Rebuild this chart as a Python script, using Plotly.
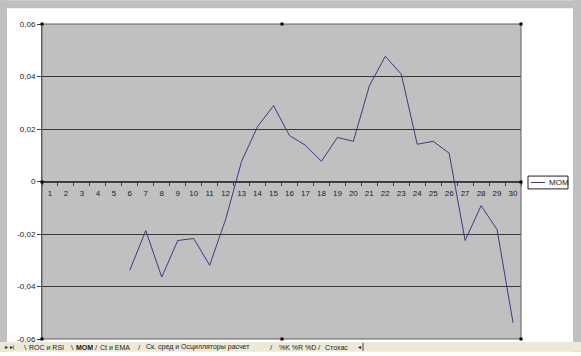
import plotly.graph_objects as go

# ---- data ----
categories = list(range(1, 31))
mom_values = [None, None, None, None, None,
              -0.0338, -0.0187, -0.0364, -0.0225, -0.0217,
              -0.0319, -0.0145, 0.0077, 0.0209, 0.0289,
              0.0175, 0.0138, 0.0077, 0.0168, 0.0153,
              0.0364, 0.0477, 0.0409, 0.0142, 0.0153,
              0.0108, -0.0225, -0.0092, -0.0183, -0.0538]
y_tickvals = [-0.06, -0.04, -0.02, 0, 0.02, 0.04, 0.06]
y_ticktext = ["-0,06", "-0,04", "-0,02", "0", "0,02", "0,04", "0,06"]
series_name = "MOM"
sheet_tabs = [("ROC и RSI", 27, False, "\\", 22), ("MOM", 74, True, "\\", 69),
              ("Ct и EMA", 98, False, "/", 93),
              ("Ск. сред и Осцилляторы расчет", 144, False, "/", 136),
              ("%K %R %D", 277, False, "/", 268), ("Стохас", 323, False, "/", 316)]

W, H = 581, 356
L, R, T, B = 42, 521, 24, 343
PW, PH = R - L, B - T


def px(x):
    return (x - L) / PW


def py(y):
    return (B - y) / PH


FONT = "Liberation Sans, Arial, sans-serif"
LINE_COLOR = "#3a3a8a"

fig = go.Figure()
fig.add_trace(go.Scatter(x=categories, y=mom_values, mode="lines", name=series_name,
                         line=dict(color=LINE_COLOR, width=1), connectgaps=False,
                         showlegend=False, hoverinfo="x+y"))

shapes = []
frame = "#c0c0c0"
shapes.append(dict(type="rect", xref="paper", yref="paper", x0=px(0), x1=px(7), y0=py(H), y1=py(0),
                   fillcolor=frame, line=dict(width=0), layer="below"))
shapes.append(dict(type="rect", xref="paper", yref="paper", x0=px(0), x1=px(W), y0=py(8), y1=py(0),
                   fillcolor=frame, line=dict(width=0), layer="below"))
shapes.append(dict(type="rect", xref="paper", yref="paper", x0=px(573), x1=px(W), y0=py(H), y1=py(0),
                   fillcolor=frame, line=dict(width=0), layer="below"))
# sheet tab bar
shapes.append(dict(type="rect", xref="paper", yref="paper", x0=px(0), x1=px(W), y0=py(H), y1=py(346),
                   fillcolor="#ece9d8", line=dict(width=0)))
shapes.append(dict(type="line", xref="paper", yref="paper", x0=px(363), x1=px(363), y0=py(355), y1=py(347),
                   line=dict(color="#404040", width=1)))
# plot area border
shapes.append(dict(type="rect", xref="paper", yref="paper", x0=0, x1=1, y0=0, y1=1,
                   line=dict(color="#606060", width=1)))
# selection handles
for hx, hy in [(L, T), (282, T), (R, T), (L, 184), (R, 184), (L, B), (282, B), (R, B)]:
    shapes.append(dict(type="rect", xref="paper", yref="paper", x0=px(hx - 1.5), x1=px(hx + 1.5),
                       y0=py(hy + 1.5), y1=py(hy - 1.5), fillcolor="black", line=dict(width=0)))
# legend box
shapes.append(dict(type="rect", xref="paper", yref="paper", x0=px(528), x1=px(568), y0=py(191), y1=py(178),
                   fillcolor="white", line=dict(color="#202020", width=1)))
shapes.append(dict(type="line", xref="paper", yref="paper", x0=px(531), x1=px(545), y0=py(184.5), y1=py(184.5),
                   line=dict(color=LINE_COLOR, width=1)))

annotations = [dict(xref="paper", yref="paper", x=px(547), y=py(184.5), text=series_name, showarrow=False,
                    xanchor="left", yanchor="middle", font=dict(family=FONT, size=8, color="#202020"))]
annotations.append(dict(xref="paper", yref="paper", x=px(3), y=py(351.5), text="▸ ▸|", showarrow=False,
                        xanchor="left", yanchor="middle", font=dict(family=FONT, size=6, color="#202020")))
for name, xpos, active, sep, sx in sheet_tabs:
    annotations.append(dict(xref="paper", yref="paper", x=px(sx), y=py(351.5), text=sep,
                            showarrow=False, xanchor="left", yanchor="middle",
                            font=dict(family=FONT, size=8, color="#303030")))
    txt = f"<b>{name}</b>" if active else name
    annotations.append(dict(xref="paper", yref="paper", x=px(xpos), y=py(351.5), text=txt,
                            showarrow=False, xanchor="left", yanchor="middle",
                            font=dict(family=FONT, size=7, color="#202020")))
annotations.append(dict(xref="paper", yref="paper", x=px(356), y=py(351.5), text="◂", showarrow=False,
                        xanchor="left", yanchor="middle", font=dict(family=FONT, size=6, color="#202020")))

fig.update_layout(
    width=W, height=H,
    margin=dict(l=L, r=W - R, t=T, b=H - B, pad=0),
    paper_bgcolor="white",
    plot_bgcolor="#c0c0c0",
    font=dict(family=FONT, size=8, color="#202020"),
    showlegend=False,
    shapes=shapes,
    annotations=annotations,
    xaxis=dict(
        range=[0.5, 30.5], anchor="free", position=0.5,
        tickmode="array", tickvals=categories, ticktext=[str(c) for c in categories],
        ticks="", showgrid=False, zeroline=False,
        showline=True, linecolor="#404040", linewidth=1,
        ticklabelstandoff=4,
        tickfont=dict(family=FONT, size=8, color="#202020"),
        minor=dict(tick0=0.5, dtick=1, ticks="outside", ticklen=3, tickcolor="#404040", showgrid=False),
        fixedrange=True,
    ),
    yaxis=dict(
        range=[-0.06, 0.06], tickmode="array", tickvals=y_tickvals, ticktext=y_ticktext,
        showgrid=True, gridcolor="#383838", gridwidth=1, zeroline=False,
        showline=True, linecolor="#606060", linewidth=1,
        ticks="outside", ticklen=4, tickcolor="#404040",
        tickfont=dict(family=FONT, size=8, color="#202020"),
        fixedrange=True,
    ),
)

fig.write_html("out.html")
